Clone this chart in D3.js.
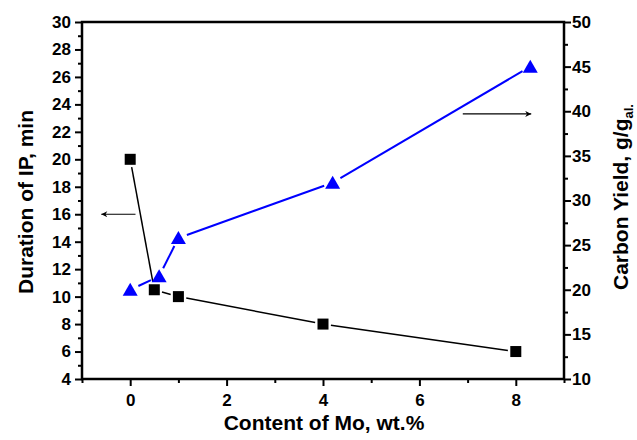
<!DOCTYPE html>
<html>
<head>
<meta charset="utf-8">
<script src="https://cdn.jsdelivr.net/npm/d3@7"></script>
<style>
  body { margin: 0; background: #fff; }
  text { font-family: "Liberation Sans", Arial, sans-serif; font-weight: bold; }
</style>
</head>
<body>
<div id="chart"></div>
<script>
// data
var moContentIP = [0, 0.5, 1, 4, 8];
var durationIP = [20, 10.5, 10, 8, 6];
var moContentCY = [0, 0.6, 1, 4.2, 8.3];
var carbonYield = [20, 21.5, 25.8, 32, 45];
var xTicks = [0, 2, 4, 6, 8];
var yLeftTicks = [4, 6, 8, 10, 12, 14, 16, 18, 20, 22, 24, 26, 28, 30];
var yRightTicks = [10, 15, 20, 25, 30, 35, 40, 45, 50];

var margin = {top: 22, right: 73, bottom: 61, left: 82},
    width = 637 - margin.left - margin.right,
    height = 440 - margin.top - margin.bottom;

var svg = d3.select("#chart").append("svg")
    .attr("width", 637)
    .attr("height", 440);

var defs = svg.append("defs");
defs.append("marker")
    .attr("id", "arrow")
    .attr("viewBox", "0 0 10 10")
    .attr("refX", 10).attr("refY", 5)
    .attr("markerWidth", 8).attr("markerHeight", 6)
    .attr("markerUnits", "userSpaceOnUse")
    .attr("orient", "auto")
    .append("path")
    .attr("d", "M0,0 L10,5 L0,10 L3,5 Z")
    .attr("fill", "#000");

var g = svg.append("g")
    .attr("transform", "translate(" + margin.left + "," + margin.top + ")");

// scales
var x = d3.scaleLinear().domain([-1, 9]).range([0, width]);
var yL = d3.scaleLinear().domain([4, 30]).range([height, 0]);
var yR = d3.scaleLinear().domain([10, 50]).range([height, 0]);

function styleAxis(sel) {
    sel.select(".domain").remove();
    sel.selectAll("line").attr("stroke", "#000").attr("stroke-width", 2);
    sel.selectAll("text").style("font-size", "17px").attr("fill", "#000");
}

// minor ticks
g.append("g").attr("transform", "translate(0," + height + ")")
    .call(d3.axisBottom(x).tickValues([-1, 1, 3, 5, 7, 9]).tickSize(4).tickFormat(""))
    .call(styleAxis);
g.append("g")
    .call(d3.axisLeft(yL).tickValues(d3.range(5, 30, 2)).tickSize(4).tickFormat(""))
    .call(styleAxis);
g.append("g").attr("transform", "translate(" + width + ",0)")
    .call(d3.axisRight(yR).tickValues(d3.range(12.5, 50, 5)).tickSize(4).tickFormat(""))
    .call(styleAxis);

// major ticks
g.append("g").attr("transform", "translate(0," + height + ")")
    .call(d3.axisBottom(x).tickValues(xTicks).tickSize(7).tickPadding(8).tickFormat(d3.format("d")))
    .call(styleAxis);
g.append("g")
    .call(d3.axisLeft(yL).tickValues(yLeftTicks).tickSize(7).tickPadding(4).tickFormat(d3.format("d")))
    .call(styleAxis);
g.append("g").attr("transform", "translate(" + width + ",0)")
    .call(d3.axisRight(yR).tickValues(yRightTicks).tickSize(7).tickPadding(1).tickFormat(d3.format("d")))
    .call(styleAxis);

// frame
g.append("rect")
    .attr("width", width).attr("height", height)
    .attr("fill", "none").attr("stroke", "#000").attr("stroke-width", 2.5);

// lines with small gaps at markers, like the original
function gapSegments(pts, gap) {
    var segs = [];
    for (var i = 0; i < pts.length - 1; i++) {
        var a = pts[i], b = pts[i + 1];
        var dx = b[0] - a[0], dy = b[1] - a[1];
        var len = Math.sqrt(dx * dx + dy * dy);
        var ux = dx / len, uy = dy / len;
        segs.push([a[0] + ux * gap, a[1] + uy * gap, b[0] - ux * gap, b[1] - uy * gap]);
    }
    return segs;
}

var ptsIP = moContentIP.map(function(d, i) { return [x(d), yL(durationIP[i])]; });
var ptsCY = moContentCY.map(function(d, i) { return [x(d), yR(carbonYield[i])]; });

g.append("g").selectAll("line")
    .data(gapSegments(ptsIP, 8))
    .enter().append("line")
    .attr("x1", function(d) { return d[0]; }).attr("y1", function(d) { return d[1]; })
    .attr("x2", function(d) { return d[2]; }).attr("y2", function(d) { return d[3]; })
    .attr("stroke", "#000").attr("stroke-width", 1.5);

g.append("g").selectAll("line")
    .data(gapSegments(ptsCY, 9))
    .enter().append("line")
    .attr("x1", function(d) { return d[0]; }).attr("y1", function(d) { return d[1]; })
    .attr("x2", function(d) { return d[2]; }).attr("y2", function(d) { return d[3]; })
    .attr("stroke", "#0000ff").attr("stroke-width", 2);

// markers
g.append("g").selectAll("rect")
    .data(ptsIP)
    .enter().append("rect")
    .attr("x", function(d) { return d[0] - 5.5; })
    .attr("y", function(d) { return d[1] - 5.5; })
    .attr("width", 11).attr("height", 11)
    .attr("fill", "#000");

g.append("g").selectAll("path")
    .data(ptsCY)
    .enter().append("path")
    .attr("d", function(d) {
        return "M" + d[0] + "," + (d[1] - 7) + "L" + (d[0] + 7.5) + "," + (d[1] + 6) +
            "L" + (d[0] - 7.5) + "," + (d[1] + 6) + "Z";
    })
    .attr("fill", "#0000ff");

// arrows pointing to the axis of each series
g.append("line")
    .attr("x1", x(0.11)).attr("y1", yL(16))
    .attr("x2", x(-0.6)).attr("y2", yL(16))
    .attr("stroke", "#000").attr("stroke-width", 1.2)
    .attr("marker-end", "url(#arrow)");
g.append("line")
    .attr("x1", x(6.9)).attr("y1", yR(39.7))
    .attr("x2", x(8.32)).attr("y2", yR(39.7))
    .attr("stroke", "#000").attr("stroke-width", 1.2)
    .attr("marker-end", "url(#arrow)");

// axis titles
svg.append("text")
    .attr("x", margin.left + width / 2 + 1)
    .attr("y", 430)
    .attr("text-anchor", "middle")
    .style("font-size", "21px")
    .text("Content of Mo, wt.%");

svg.append("text")
    .attr("transform", "translate(33,202) rotate(-90)")
    .attr("text-anchor", "middle")
    .style("font-size", "21px")
    .text("Duration of IP, min");

var rt = svg.append("text")
    .attr("transform", "translate(628,290) rotate(-90)")
    .attr("text-anchor", "start")
    .style("font-size", "21px");
rt.append("tspan").text("Carbon Yield, g/g");
rt.append("tspan").attr("dy", 5).style("font-size", "13px").text("al.");
</script>
</body>
</html>
